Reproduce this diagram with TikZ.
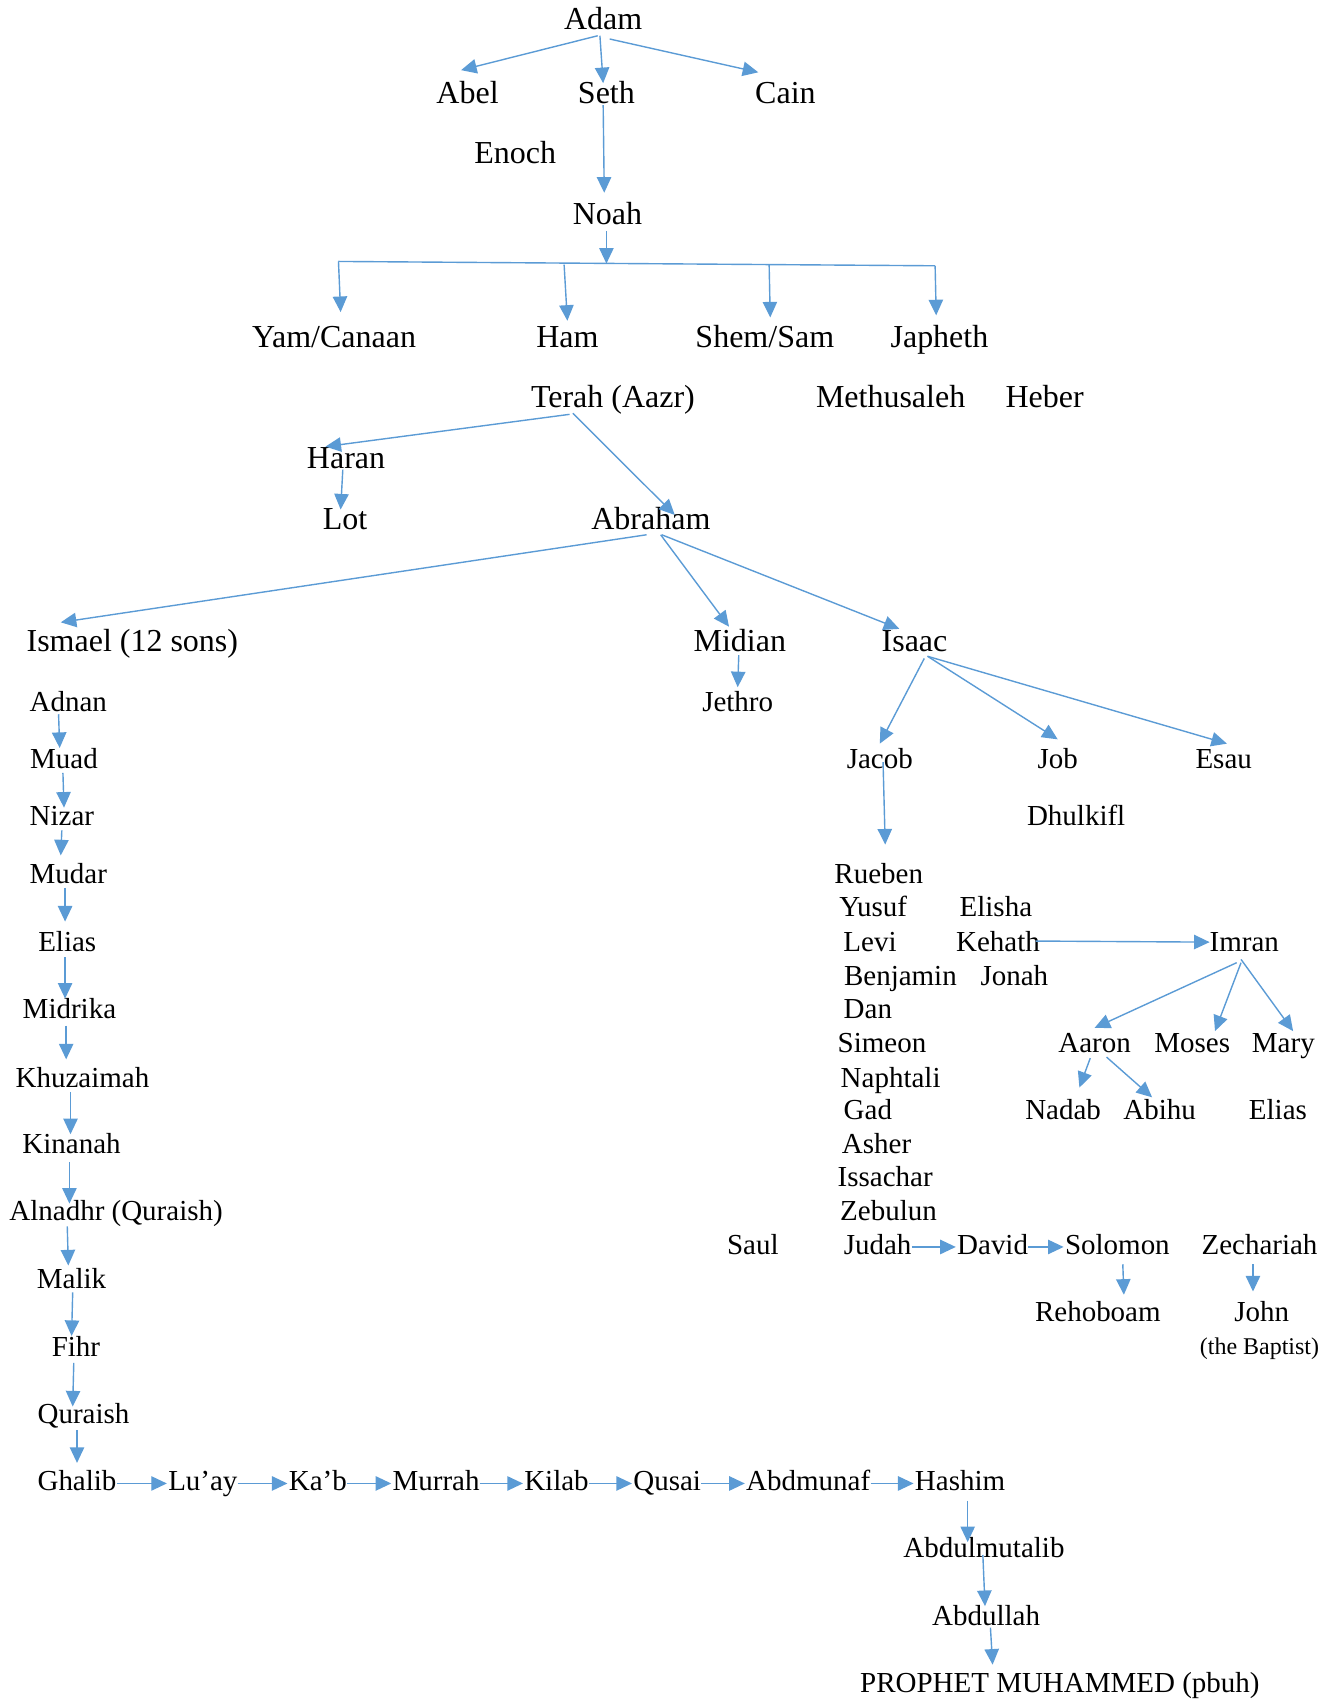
\documentclass[tikz,border=0pt]{standalone}
\usepackage{fontspec}
\setmainfont{Liberation Serif}
\usetikzlibrary{arrows.meta}
\definecolor{linkblue}{RGB}{91,155,213}

\begin{document}
\begin{tikzpicture}[x=0.54255pt,y=-0.54255pt,
    every node/.style={anchor=base,inner sep=2pt,text height=10pt,text depth=2.9pt,font=\fontsize{14.5}{17}\selectfont},
    big/.style={text height=11pt,text depth=3.2pt,font=\fontsize{16}{19}\selectfont},
    tiny/.style={font=\fontsize{12}{14}\selectfont},
    link/.style={draw=linkblue,line width=0.7pt},
    arr/.style={link,-{Triangle[length=7.8pt,width=7.2pt]}},
    rowarr/.style={arr,shorten <=-2pt,shorten >=-1.5pt}]
    \useasboundingbox (0,0) rectangle (1234,1568);

    % Adam to Noah
    \node[big] (adam) at (556,27) {Adam};
    \node[big] (abel) at (431,95) {Abel};
    \node[big] (seth) at (559,95) {Seth};
    \node[big] (cain) at (724,95) {Cain};
    \node[big] (enoch) at (475,151) {Enoch};
    \node[big] (noah) at (560,207) {Noah};
    \node[big] (yam) at (308,320) {Yam/Canaan};
    \node[big] (ham) at (523,320) {Ham};
    \node[big] (shem) at (705,320) {Shem/Sam};
    \node[big] (japheth) at (866,320) {Japheth};
    \coordinate (fork) at (559,243);
    \coordinate (barL) at (312,241);
    \coordinate (barR) at (862,245);
    \coordinate (dropHam) at (520,244);
    \coordinate (dropShem) at (709,244);

    % Terah and Abraham
    \node[big] (terah) at (565,376) {Terah (Aazr)};
    \node[big] (methusaleh) at (821,376) {Methusaleh};
    \node[big] (heber) at (963,376) {Heber};
    \node[big] (haran) at (319,432) {Haran};
    \node[big] (lot) at (318,488) {Lot};
    \node[big] (abraham) at (600,488) {Abraham};
    \node[big] (ismael) at (122,601) {Ismael (12 sons)};
    \node[big] (midian) at (682,601) {Midian};
    \node[big] (isaac) at (843,601) {Isaac};
    \node (jethro) at (680,656) {Jethro};

    % line of Ismael
    \node (adnan) at (63,656) {Adnan};
    \node (muad) at (59,708) {Muad};
    \node (nizar) at (57,761) {Nizar};
    \node (mudar) at (63,814) {Mudar};
    \node (elias) at (62,877) {Elias};
    \node (midrika) at (64,939) {Midrika};
    \node (khuzaimah) at (76,1002) {Khuzaimah};
    \node (kinanah) at (66,1063) {Kinanah};
    \node (alnadhr) at (107,1125) {Alnadhr (Quraish)};
    \node (malik) at (66,1188) {Malik};
    \node (fihr) at (70,1250) {Fihr};
    \node (quraish) at (77,1312) {Quraish};
    \node (ghalib) at (71,1374) {Ghalib};
    \node (luay) at (187,1374) {Lu’ay};
    \node (kab) at (293,1374) {Ka’b};
    \node (murrah) at (402,1374) {Murrah};
    \node (kilab) at (513,1374) {Kilab};
    \node (qusai) at (615,1374) {Qusai};
    \node (abdmunaf) at (745,1374) {Abdmunaf};
    \node (hashim) at (885,1374) {Hashim};
    \node (abdulmutalib) at (907,1436) {Abdulmutalib};
    \node (abdullah) at (909,1498) {Abdullah};
    \node (prophet) at (977,1560) {PROPHET MUHAMMED (pbuh)};

    % line of Isaac
    \node (jacob) at (811,708) {Jacob};
    \node (job) at (975,708) {Job};
    \node (esau) at (1128,708) {Esau};
    \node (dhulkifl) at (992,761) {Dhulkifl};
    \node (rueben) at (810,814) {Rueben};
    \node (yusuf) at (805,845) {Yusuf};
    \node (elisha) at (918,845) {Elisha};
    \node (levi) at (802,877) {Levi};
    \node (kehath) at (920,877) {Kehath};
    \node (imran) at (1147,877) {Imran};
    \node (benjamin) at (830,908) {Benjamin};
    \node (jonah) at (935,908) {Jonah};
    \node (dan) at (800,939) {Dan};
    \node (simeon) at (813,970) {Simeon};
    \node (aaron) at (1009,970) {Aaron};
    \node (moses) at (1099,970) {Moses};
    \node (mary) at (1183,970) {Mary};
    \node (naphtali) at (821,1002) {Naphtali};
    \node (gad) at (800,1032) {Gad};
    \node (nadab) at (980,1032) {Nadab};
    \node (abihu) at (1069,1032) {Abihu};
    \node (eliasb) at (1178,1032) {Elias};
    \node (asher) at (808,1063) {Asher};
    \node (issachar) at (816,1094) {Issachar};
    \node (zebulun) at (819,1125) {Zebulun};
    \node (saul) at (694,1156) {Saul};
    \node (judah) at (809,1156) {Judah};
    \node (david) at (915,1156) {David};
    \node (solomon) at (1030,1156) {Solomon};
    \node (zechariah) at (1161,1156) {Zechariah};
    \node (rehoboam) at (1012,1218) {Rehoboam};
    \node (john) at (1163,1218) {John};
    \node[tiny] (baptist) at (1161,1249) {(the Baptist)};

    \draw[arr] ([shift={(-5,-4)}]adam.south) to ([shift={(-6,-6)}]abel.north);
    \draw[arr] ([shift={(-3,-4)}]adam.south) to ([shift={(-3,6)}]seth.north);
    \draw[arr] ([shift={(6,-1)}]adam.south) to ([shift={(-25,-4)}]cain.north);
    \draw[arr] ([shift={(-3,-8)}]seth.south) to ([shift={(-3,-5)}]noah.north);
    \draw[arr] ([shift={(-1,-4)}]noah.south) to (fork);
    \draw[link] (barL) to (barR);
    \draw[arr] (barL) to ([shift={(6,-8)}]yam.north); \draw[arr] (dropHam) to (ham.north);
    \draw[arr] (dropShem) to ([shift={(5,-3)}]shem.north); \draw[arr] (barR) to ([shift={(-3,-5)}]japheth.north);

    \draw[arr] ([shift={(-40,-4)}]terah.south) to ([shift={(-19,4)}]haran.north);
    \draw[arr] ([shift={(-37,-5)}]terah.south) to ([shift={(22,11)}]abraham.north);
    \draw[arr] ([shift={(-3,-9)}]haran.south) to ([shift={(-4,6)}]lot.north);
    \draw[arr] ([shift={(-4,-5)}]abraham.south) to ([shift={(-66,-3)}]ismael.north);
    \draw[arr] ([shift={(9,-5)}]abraham.south) to ([shift={(-10,1)}]midian.north);
    \draw[arr] ([shift={(10,-5)}]abraham.south) to ([shift={(-14,3)}]isaac.north);
    \draw[arr] ([shift={(-1,-7)}]midian.south) to (jethro.north);

    \draw[arr] ([shift={(9,-4)}]isaac.south) to (jacob.north);
    \draw[arr] ([shift={(12,-6)}]isaac.south) to ([shift={(0,-4)}]job.north);
    \draw[arr] ([shift={(12,-6)}]isaac.south) to ([shift={(3,0)}]esau.north);
    \draw[arr] ([shift={(3,1)}]jacob.center) to ([shift={(6,-13)}]rueben.north);
    \draw[arr] ([shift={(-8,-3)}]kehath.east) to ([shift={(4,-2)}]imran.west);
    \draw[arr] ([shift={(-7,1)}]imran.south) to (aaron.north);
    \draw[arr] ([shift={(-3,1)}]imran.south) to ([shift={(21,3)}]moses.north);
    \draw[arr] ([shift={(-3,-2)}]imran.south) to ([shift={(9,3)}]mary.north);
    \draw[arr] ([shift={(-4,-4)}]aaron.south) to ([shift={(15,-7)}]nadab.north);
    \draw[arr] ([shift={(11,-5)}]aaron.south) to ([shift={(-7,2)}]abihu.north);
    \draw[rowarr] (judah.east) to (david.west); \draw[rowarr] (david.east) to (solomon.west);
    \draw[arr] ([shift={(5,0)}]solomon.south) to ([shift={(24,-2)}]rehoboam.north);
    \draw[arr] ([shift={(-6,0)}]zechariah.south) to ([shift={(-8,-5)}]john.north);

    \draw[arr] ([shift={(-9,-7)}]adnan.south) to ([shift={(-4,4)}]muad.north);
    \draw[arr] ([shift={(-1,-5)}]muad.south) to ([shift={(2,6)}]nizar.north);
    \draw[arr] ([shift={(0,-5)}]nizar.south) to ([shift={(-7,-3)}]mudar.north);
    \draw[arr] ([shift={(-3,-5)}]mudar.south) to ([shift={(-2,-5)}]elias.north);
    \draw[arr] ([shift={(-2,-4)}]elias.south) to ([shift={(-4,4)}]midrika.north);
    \draw[arr] ([shift={(-3,-3)}]midrika.south) to ([shift={(-15,-3)}]khuzaimah.north);
    \draw[arr] ([shift={(-11,-5)}]khuzaimah.south) to ([shift={(-1,5)}]kinanah.north);
    \draw[arr] ([shift={(-2,-1)}]kinanah.south) to ([shift={(-43,7)}]alnadhr.north);
    \draw[arr] ([shift={(-45,-4)}]alnadhr.south) to ([shift={(-3,1)}]malik.north);
    \draw[arr] ([shift={(1,-6)}]malik.south) to ([shift={(-4,4)}]fihr.north);
    \draw[arr] ([shift={(-2,-3)}]fihr.south) to ([shift={(-10,7)}]quraish.north);
    \draw[arr] ([shift={(-6,-3)}]quraish.south) to ([shift={(0,-3)}]ghalib.north);

    \draw[rowarr] (ghalib.east) to (luay.west); \draw[rowarr] (luay.east) to (kab.west);
    \draw[rowarr] (kab.east) to (murrah.west); \draw[rowarr] (murrah.east) to (kilab.west);
    \draw[rowarr] (kilab.east) to (qusai.west); \draw[rowarr] (qusai.east) to (abdmunaf.west);
    \draw[rowarr] (abdmunaf.east) to (hashim.west);
    \draw[arr] ([shift={(7,0)}]hashim.south) to ([shift={(-15,8)}]abdulmutalib.north);
    \draw[arr] ([shift={(-1,-12)}]abdulmutalib.south) to ([shift={(-1,5)}]abdullah.north);
    \draw[arr] ([shift={(4,-7)}]abdullah.south) to ([shift={(-62,-3)}]prophet.north);
\end{tikzpicture}
\end{document}
